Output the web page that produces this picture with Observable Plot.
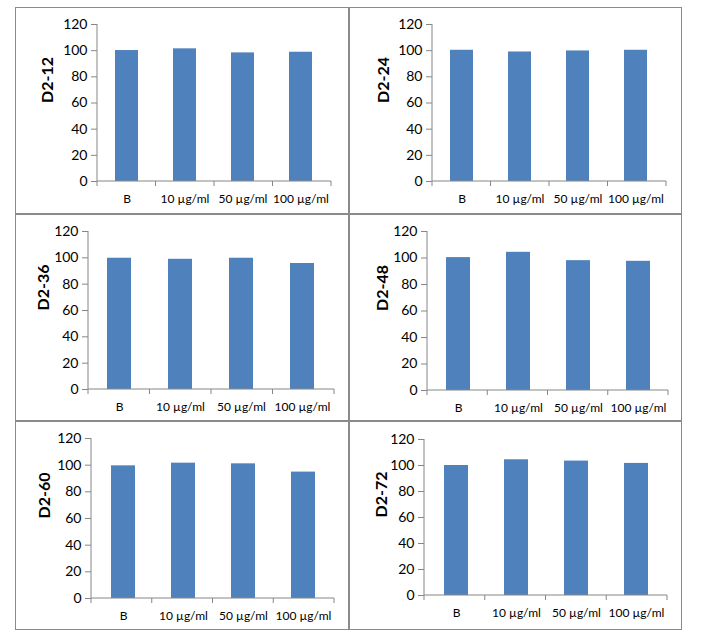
<!DOCTYPE html>
<html>
<head>
<meta charset="utf-8">
<script src="https://cdn.jsdelivr.net/npm/d3@7"></script>
<script src="https://cdn.jsdelivr.net/npm/@observablehq/plot@0.6"></script>
<style>
  body { margin: 0; background: #fff; }
  #wrap { position: relative; width: 703px; height: 643px; font-family: Lato, "Open Sans", sans-serif; }
  .cell { position: absolute; box-sizing: border-box; border: 1px solid #8a8a8a; }
  .plot { position: absolute; }
</style>
</head>
<body>
<div id="wrap"></div>
<script>
// ---- data ----
const categories = ["B", "10 µg/ml", "50 µg/ml", "100 µg/ml"];
const panelNames = ["D2-12", "D2-24", "D2-36", "D2-48", "D2-60", "D2-72"];
const d2_12 = [100.1, 101.4, 98.3, 98.8];
const d2_24 = [100.3, 99.0, 99.8, 100.3];
const d2_36 = [99.7, 98.9, 99.7, 95.7];
const d2_48 = [100.3, 104.3, 98.0, 97.5];
const d2_60 = [99.5, 101.5, 101.0, 94.8];
const d2_72 = [100.0, 104.4, 103.4, 101.6];
const yTicks = [0, 20, 40, 60, 80, 100, 120];
const seriesList = [d2_12, d2_24, d2_36, d2_48, d2_60, d2_72];

// ---- layout (cells and plot margins) ----
const cells = [
  {left: 15,  top: 7,   w: 334, h: 207, ml: 82, mr: 18, mt: 17, mb: 33, ldx: 50},
  {left: 349, top: 7,   w: 333, h: 207, ml: 83, mr: 16, mt: 17, mb: 33, ldx: 49},
  {left: 15,  top: 214, w: 334, h: 207, ml: 73, mr: 15, mt: 17, mb: 32, ldx: 45},
  {left: 349, top: 214, w: 333, h: 207, ml: 78, mr: 14, mt: 17, mb: 31, ldx: 45},
  {left: 15,  top: 421, w: 334, h: 209, ml: 76, mr: 15, mt: 17, mb: 32, ldx: 47},
  {left: 349, top: 421, w: 333, h: 209, ml: 75, mr: 15, mt: 18, mb: 35, ldx: 43}
];

const axisColor = "#868686";
const barColor = "#4F81BD";
const wrap = document.getElementById("wrap");

// custom mark: y axis line, x baseline and category-boundary ticks
function excelAxes(index, scales, values, dim) {
  const ns = "http://www.w3.org/2000/svg";
  const g = document.createElementNS(ns, "g");
  const y0 = scales.y(0);
  const yTop = scales.y(120);
  const x0 = dim.marginLeft;
  const x1 = dim.width - dim.marginRight;
  const n = categories.length;
  const step = (x1 - x0) / n;
  const lines = [[x0, yTop, x0, y0], [x0, y0, x1, y0]];
  for (let i = 0; i <= n; i++) lines.push([x0 + i * step, y0, x0 + i * step, y0 + 5]);
  for (const [a, b, c, d] of lines) {
    const l = document.createElementNS(ns, "line");
    l.setAttribute("x1", a); l.setAttribute("y1", b);
    l.setAttribute("x2", c); l.setAttribute("y2", d);
    l.setAttribute("stroke", axisColor);
    l.setAttribute("stroke-width", 1);
    g.appendChild(l);
  }
  return g;
}

seriesList.forEach((vals, k) => {
  const c = cells[k];
  const border = document.createElement("div");
  border.className = "cell";
  border.style.left = c.left + "px";
  border.style.top = c.top + "px";
  border.style.width = c.w + "px";
  border.style.height = c.h + "px";
  wrap.appendChild(border);

  const data = categories.map((cat, i) => ({cat, v: vals[i]}));
  const chart = Plot.plot({
    width: c.w,
    height: c.h,
    marginLeft: c.ml,
    marginRight: c.mr,
    marginTop: c.mt,
    marginBottom: c.mb,
    style: {fontFamily: "Lato, 'Open Sans', sans-serif", fontSize: "12px", color: "#000", background: "transparent", overflow: "visible"},
    x: {domain: categories, paddingInner: 0.6, paddingOuter: 0.3, label: null},
    y: {domain: [0, 120], label: null},
    marks: [
      Plot.barY(data, {x: "cat", y: "v", fill: barColor}),
      Plot.axisY({ticks: yTicks, tickSize: 6, tickPadding: 4, stroke: axisColor, fill: "#000", fontSize: 14, label: null}),
      Plot.axisX({tickSize: 0, tickPadding: 13, fill: "#000", label: null}),
      excelAxes,
      Plot.text([panelNames[k]], {frameAnchor: "left", rotate: -90, dx: -c.ldx, fontWeight: "bold", fontSize: 16, fill: "#000"})
    ]
  });
  chart.classList.add("plot");
  chart.style.left = c.left + "px";
  chart.style.top = c.top + "px";
  wrap.appendChild(chart);
});
</script>
</body>
</html>
